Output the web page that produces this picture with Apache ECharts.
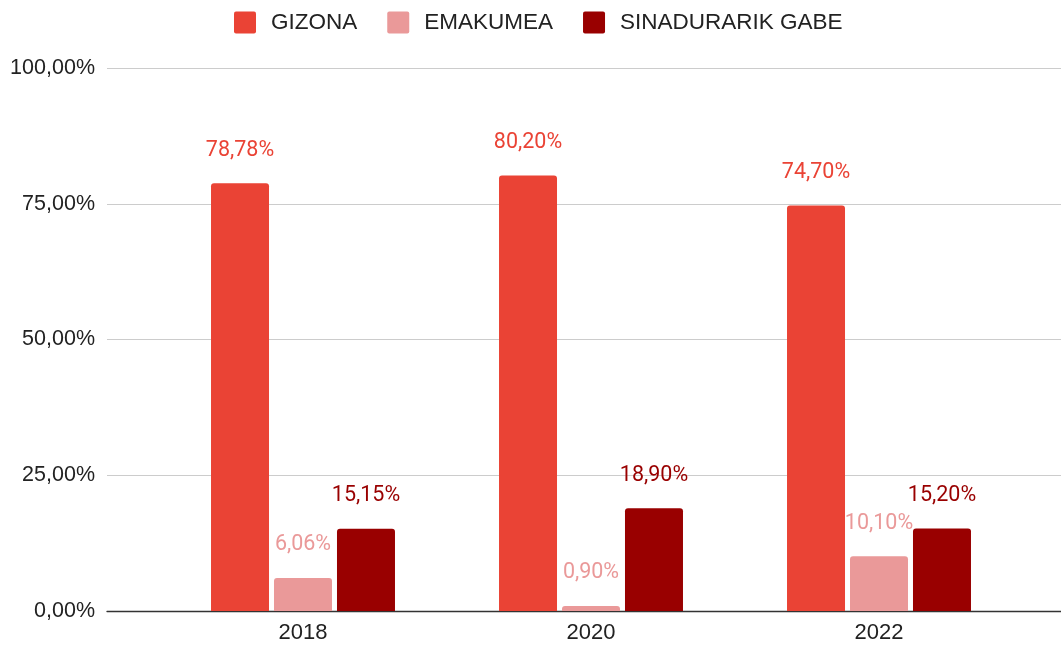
<!DOCTYPE html>
<html>
<head>
<meta charset="utf-8">
<script src="https://cdn.jsdelivr.net/npm/echarts@6/dist/echarts.min.js"></script>
<style>html,body{margin:0;padding:0;background:#fff;}#c{width:1061px;height:645px;}</style>
</head>
<body>
<div id="c"></div>
<script>
const categories = ['2018', '2020', '2022'];
const gizona = [78.78, 80.20, 74.70];
const emakumea = [6.06, 0.90, 10.10];
const sinadurarikGabe = [15.15, 18.90, 15.20];
const seriesNames = ['GIZONA', 'EMAKUMEA', 'SINADURARIK GABE'];
const colors = ['#EA4335', '#EA9999', '#990000'];

const fmt = v => v.toFixed(2).replace('.', ',') + '%';

const chart = echarts.init(document.getElementById('c'));
function bar(name, data, color) {
  return {
    name, type: 'bar', data, xAxisIndex: 1, yAxisIndex: 1,
    barWidth: 58, barGap: '8.6%',
    itemStyle: { color, borderRadius: [3, 3, 0, 0] },
    label: {
      show: true, position: 'top', distance: 22,
      color, fontFamily: 'Roboto', fontSize: 21.5,
      formatter: p => fmt(p.value)
    }
  };
}
chart.setOption({
  animation: false,
  legend: {
    left: 234, top: 11, padding: 0, itemWidth: 22, itemHeight: 22, itemGap: 30,
    icon: 'path://M2,0H20Q22,0 22,2V20Q22,22 20,22H2Q0,22 0,20V2Q0,0 2,0Z',
    textStyle: { fontFamily: 'Liberation Sans', fontSize: 22.5, color: '#222', padding: [0, 0, 0, 10] },
    data: seriesNames
  },
  grid: [
    { left: 107, right: 0, top: 68, bottom: 34 },
    { left: 159, right: 38, top: 68, bottom: 34 }
  ],
  xAxis: [
    { gridIndex: 0, type: 'category', data: ['a'], axisLine: { lineStyle: { color: '#333', width: 1.3 } },
      axisTick: { show: false }, axisLabel: { show: false } },
    { gridIndex: 1, type: 'category', data: categories, axisLine: { show: false }, axisTick: { show: false },
      axisLabel: { fontFamily: 'Liberation Sans', fontSize: 22, color: '#222', margin: 11 } }
  ],
  yAxis: [
    { gridIndex: 0, type: 'value', min: 0, max: 100, interval: 25,
      axisLine: { show: false }, axisTick: { show: false },
      splitLine: { lineStyle: { color: '#cccccc', width: 1 } },
      axisLabel: { fontFamily: 'Liberation Sans', fontSize: 21.5, color: '#222', margin: 12, formatter: v => fmt(v) } },
    { gridIndex: 1, type: 'value', min: 0, max: 100, interval: 25, show: false }
  ],
  series: [
    bar(seriesNames[0], gizona, colors[0]),
    bar(seriesNames[1], emakumea, colors[1]),
    bar(seriesNames[2], sinadurarikGabe, colors[2])
  ]
});
</script>
</body>
</html>
